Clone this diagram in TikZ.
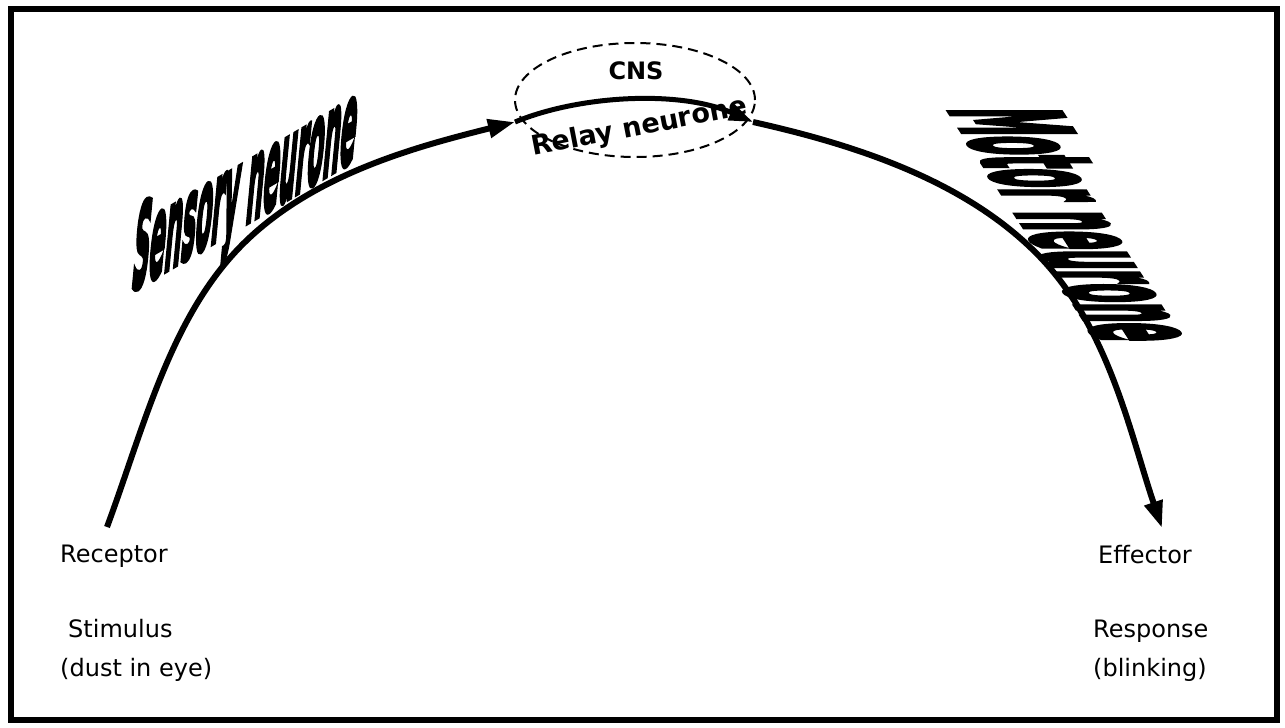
\documentclass[tikz,border=0pt]{standalone}
\usepackage{fontspec}
\setmainfont{DejaVu Sans}
\newfontfamily\wafont{DejaVu Sans}[FakeBold=5]
\usetikzlibrary{arrows.meta,shapes.geometric}
\begin{document}
\begin{tikzpicture}[x=1pt,y=-1pt,
  lbl/.style={font=\fontsize{24}{39}\selectfont, inner sep=0pt, anchor=base west},
  nerve/.style={line width=6pt, -{Triangle[length=27pt,width=18pt]}},
  relayline/.style={line width=5pt, -{Triangle[length=24pt,width=16pt]}},
  wordart/.style={font=\wafont\bfseries\fontsize{30}{30}\selectfont, inner sep=0pt, anchor=base west}]
\useasboundingbox (0,0) rectangle (1285,728);
\draw[line width=6pt] (10.5,8.5) rectangle (1277,720);
% CNS ellipse
\node[ellipse, draw, dashed, line width=2pt, dash pattern=on 10pt off 6pt,
      minimum width=240pt, minimum height=114pt] (cns) at (635,100) {};
\node[font=\bfseries\fontsize{24}{24}\selectfont, inner sep=0pt] (cnslabel) at (636,71) {CNS};
% nerve pathway
\coordinate (rec) at (107,527);
\coordinate (m1) at (240,247);
\coordinate (a1) at (515,122);
\coordinate (a2) at (753,122);
\coordinate (m3) at (1040,257);
\coordinate (eff) at (1162,528);
\draw[nerve] (rec) .. controls +(37,-100) and +(-70,72) .. (m1)
                   .. controls +(70,-72) and +(-100,25) .. (a1);
\draw[relayline] (a1) .. controls +(65,-27) and +(-73,-32) .. (a2);
\draw[nerve] (a2) .. controls +(103,23) and +(-73,-76) .. (m3)
                  .. controls +(69,72) and +(-32,-95) .. (eff);
% word art labels
\node[wordart, yslant=0.59, xslant=0.1] (sensory) at (130,292)
  {\scalebox{0.78}[3.7]{Sensory neurone}};
\node[wordart, xslant=-0.65, rotate=-90] (motor) at (948,108)
  {\scalebox{0.93}[5.0]{Motor neurone}};
\node[font=\bfseries\fontsize{27}{27}\selectfont, inner sep=0pt, anchor=base west, rotate=11]
  (relay) at (533,156) {Relay neurone};
% text labels
\node[lbl] (receptor) at (60,562) {Receptor};
\node[lbl] (stimulus) at (68,637) {Stimulus};
\node[lbl] (dust) at (60,676) {(dust in eye)};
\node[lbl] (effector) at (1098,563) {Effector};
\node[lbl] (response) at (1093,637) {Response};
\node[lbl] (blinking) at (1093,676) {(blinking)};
\end{tikzpicture}
\end{document}
